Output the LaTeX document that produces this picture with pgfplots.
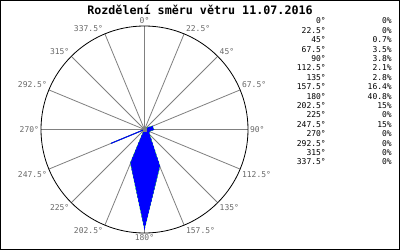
\documentclass[border=0pt]{standalone}
\usepackage{pgfplots}
\pgfplotsset{compat=1.18}
\usepackage{pgfplotstable}
\usepackage{fontspec}
\setmainfont{DejaVu Sans Mono}
\setmonofont{DejaVu Sans Mono}
\definecolor{spoke}{RGB}{128,128,128}
\definecolor{lbl}{RGB}{105,105,105}
\definecolor{rosegreen}{RGB}{0,220,0}
\definecolor{roseblue}{RGB}{0,0,255}
\pgfplotstableread{
dir val
0 0
22.5 0
45 0.7
67.5 3.5
90 3.8
112.5 2.1
135 2.8
157.5 16.4
180 40.8
202.5 15
225 0
247.5 15
270 0
292.5 0
315 0
337.5 0
360 0
}\wind
\begin{document}
\begin{tikzpicture}[x=1pt,y=1pt]
\path[use as bounding box] (0,0) rectangle (400,-250);
\fill[white] (0,0) rectangle (400,-250);
\draw[black, line width=1pt] (0.5,-0.5) rectangle (399.5,-249.5);
\coordinate (C) at (144.5,-129.5);
\foreach \a in {0,22.5,45,67.5,90,112.5,135,157.5,180,202.5,225,247.5,270,292.5,315,337.5}
  \draw[spoke, line width=0.8pt] (C) -- ++({90-\a}:103.5pt);
\draw[black, line width=0.8pt] (C) circle (103.5pt);
\foreach \a/\an in {0/south,22.5/south west,45/south west,67.5/south west,90/west,112.5/north west,135/north west,157.5/north west,180/north,202.5/north east,225/north east,247.5/north east,270/east,292.5/south east,315/south east,337.5/south east}
  \node[anchor=\an, text=lbl, font=\fontsize{8}{9}\selectfont, inner sep=1.8pt] at ([shift={({90-\a}:103.5pt)}]C) {\a°};
\node[font=\fontsize{11.7}{14}\selectfont\bfseries, inner sep=0pt] at (200,-9.5) {Rozdělení směru větru 11.07.2016};
\begin{axis}[at={(C)}, anchor=center, x=2.416pt, y=2.416pt,
  xmin=-42.84, xmax=42.84, ymin=-42.84, ymax=42.84, hide axis, clip=false]
\addplot[draw=rosegreen, line width=0.7pt] table[x expr={\thisrow{val}*sin(\thisrow{dir})}, y expr={\thisrow{val}*cos(\thisrow{dir})}] {\wind};
\addplot[fill=roseblue, draw=roseblue, line width=1pt, dash pattern=on 2pt off 2pt] table[x expr={\thisrow{val}*sin(\thisrow{dir})}, y expr={\thisrow{val}*cos(\thisrow{dir})}] {\wind};
\end{axis}
\fill[spoke] ([shift={(-2pt,-2pt)}]C) rectangle ++(4pt,4pt);
\foreach \i/\d/\p in {0/0/0,1/22.5/0,2/45/0.7,3/67.5/3.5,4/90/3.8,5/112.5/2.1,6/135/2.8,7/157.5/16.4,8/180/40.8,9/202.5/15,10/225/0,11/247.5/15,12/270/0,13/292.5/0,14/315/0,15/337.5/0}{
  \node[anchor=east, font=\fontsize{8}{9}\selectfont, inner sep=0pt] at (326,{-21-9.4*\i}) {\d°};
  \node[anchor=east, font=\fontsize{8}{9}\selectfont, inner sep=0pt] at (392,{-21-9.4*\i}) {\p\%};
}
\end{tikzpicture}
\end{document}
